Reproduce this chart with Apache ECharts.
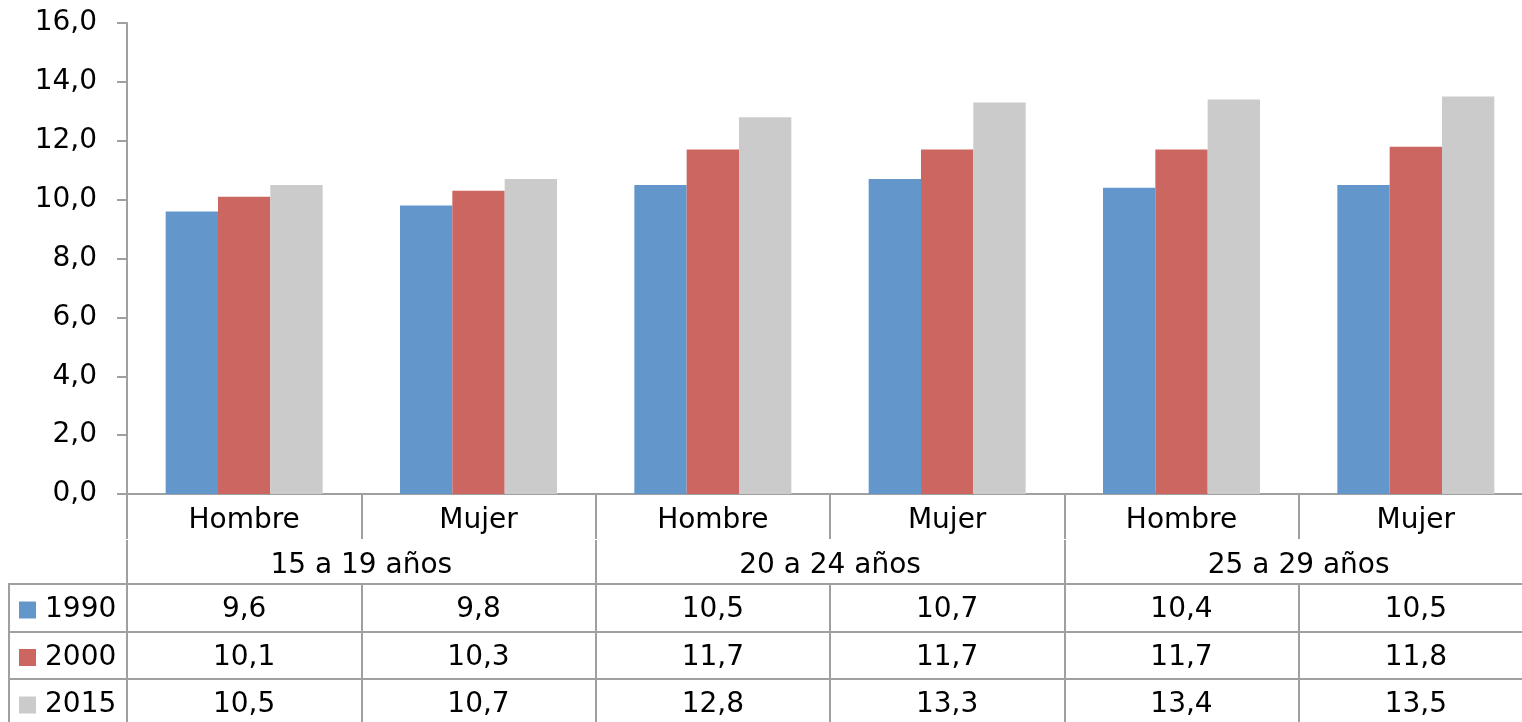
<!DOCTYPE html>
<html>
<head>
    <meta charset="utf-8">
    <script src="https://cdn.jsdelivr.net/npm/echarts@6/dist/echarts.min.js"></script>
    <style>
        html, body { margin: 0; padding: 0; background: #fff; }
        #main { width: 1522px; height: 722px; }
    </style>
</head>
<body>
    <div id="main"></div>
    <script type="text/javascript">
        // datos del grafico
        var sexos = ['Hombre', 'Mujer', 'Hombre', 'Mujer', 'Hombre', 'Mujer'];
        var grupos = ['15 a 19 años', '20 a 24 años', '25 a 29 años'];
        var anios = ['1990', '2000', '2015'];
        var v1990 = [9.6, 9.8, 10.5, 10.7, 10.4, 10.5];
        var v2000 = [10.1, 10.3, 11.7, 11.7, 11.7, 11.8];
        var v2015 = [10.5, 10.7, 12.8, 13.3, 13.4, 13.5];
        var colores = ['#6397CB', '#CC6660', '#CBCBCB'];

        var fuente = 'DejaVu Sans';
        var gris = '#a0a0a0';
        var tam = 28;

        function coma(v) {
            return v.toFixed(1).replace('.', ',');
        }

        // ejes de la tabla de datos (una fila por año)
        function ejeFila(valores, offset) {
            return {
                type: 'category',
                position: 'bottom',
                offset: offset,
                data: valores.map(coma),
                axisLine: { show: true, lineStyle: { color: gris, width: 2 } },
                axisTick: { show: true, interval: 0, length: 48, lineStyle: { color: gris, width: 2 } },
                axisLabel: { interval: 0, margin: 12, color: '#000', fontFamily: fuente, fontSize: tam }
            };
        }

        var myChart = echarts.init(document.getElementById('main'));
        var option = {
            animation: false,
            backgroundColor: '#ffffff',
            color: colores,
            // la tabla sigue un poco mas alla del borde derecho
            grid: { left: 127, width: 1406, top: 23, height: 471, outerBoundsMode: 'none', containLabel: false },
            legend: {
                data: anios,
                orient: 'vertical',
                left: 19,
                top: 596,
                padding: 0,
                icon: 'rect',
                itemWidth: 17,
                itemHeight: 17,
                itemGap: 19.5,
                textStyle: { color: '#000', fontFamily: fuente, fontSize: tam, lineHeight: 28, padding: [0, 0, 0, 4] }
            },
            xAxis: [{
                type: 'category',
                data: sexos,
                axisLine: { show: true, lineStyle: { color: gris, width: 2 } },
                axisTick: { show: true, interval: 0, length: 45, lineStyle: { color: gris, width: 2 } },
                axisLabel: { interval: 0, margin: 13, color: '#000', fontFamily: fuente, fontSize: tam }
            }, {
                type: 'category',
                position: 'bottom',
                offset: 46,
                data: grupos,
                axisLine: { show: false },
                axisTick: { show: true, interval: 0, length: 44, lineStyle: { color: gris, width: 2 } },
                axisLabel: { interval: 0, margin: 12, color: '#000', fontFamily: fuente, fontSize: tam }
            },
                ejeFila(v1990, 90),
                ejeFila(v2000, 138),
                ejeFila(v2015, 185)
            ],
            yAxis: {
                type: 'value',
                min: 0,
                max: 16,
                interval: 2,
                axisLine: { show: true, lineStyle: { color: gris, width: 2 } },
                axisTick: { show: true, length: 10, lineStyle: { color: gris, width: 2 } },
                splitLine: { show: false },
                axisLabel: {
                    margin: 30,
                    color: '#000',
                    fontFamily: fuente,
                    fontSize: tam,
                    formatter: function (v) { return coma(v); }
                }
            },
            // borde de la columna de leyenda
            graphic: [{
                type: 'rect',
                shape: { x: 9, y: 584, width: 118, height: 145 },
                style: { fill: 'none', stroke: gris, lineWidth: 2 }
            }, {
                type: 'line',
                shape: { x1: 9, y1: 632, x2: 127, y2: 632 },
                style: { stroke: gris, lineWidth: 2 }
            }, {
                type: 'line',
                shape: { x1: 9, y1: 679, x2: 127, y2: 679 },
                style: { stroke: gris, lineWidth: 2 }
            }],
            series: [{
                name: anios[0], type: 'bar', data: v1990,
                barGap: '0%', barCategoryGap: '33%'
            }, {
                name: anios[1], type: 'bar', data: v2000,
                barGap: '0%', barCategoryGap: '33%'
            }, {
                name: anios[2], type: 'bar', data: v2015,
                barGap: '0%', barCategoryGap: '33%'
            }]
        };
        myChart.setOption(option);
    </script>
</body>
</html>
